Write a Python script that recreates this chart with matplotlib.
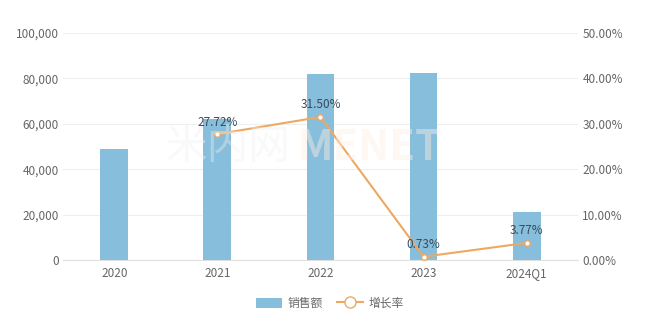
import matplotlib.pyplot as plt
from matplotlib.ticker import FuncFormatter
from matplotlib.lines import Line2D
from matplotlib.patches import Patch

plt.rcParams['font.family'] = ['Noto Sans CJK SC', 'DejaVu Sans']

years = ['2020', '2021', '2022', '2023', '2024Q1']
sales = [48700, 62300, 81900, 82500, 21100]
growth_years = ['2021', '2022', '2023', '2024Q1']
growth = [27.72, 31.50, 0.73, 3.77]

bar_color = '#86bedb'
line_color = '#eda862'
text_color = '#666666'

fig = plt.figure(figsize=(6.6, 3.36), dpi=100)
ax = fig.add_axes([0.095, 0.226, 0.781, 0.676])
ax2 = ax.twinx()

x = list(range(len(years)))
ax.bar(x, sales, width=0.27, color=bar_color, zorder=2)
ax.set_xlim(-0.5, len(years) - 0.5)
ax.set_ylim(0, 100000)
ax.set_yticks(range(0, 100001, 20000))
ax.yaxis.set_major_formatter(FuncFormatter(lambda v, p: f'{int(v):,}'))
ax.set_xticks(x)
ax.set_xticklabels(years)
ax.grid(axis='y', color='#efefef', linewidth=0.8, zorder=0)
ax.set_axisbelow(True)

gx = [years.index(y) for y in growth_years]
ax2.plot(gx, growth, color=line_color, linewidth=1.5, marker='o', markersize=4,
         markerfacecolor='white', markeredgecolor=line_color, zorder=3)
for xi, g in zip(gx, growth):
    ax2.annotate(f'{g:.2f}%', (xi, g), xytext=(0, 4), textcoords='offset points',
                 ha='center', va='bottom', fontsize=8.5, color='#3a4a5a')
ax2.set_ylim(0, 50)
ax2.set_yticks(range(0, 51, 10))
ax2.yaxis.set_major_formatter(FuncFormatter(lambda v, p: f'{v:.2f}%'))

for a in (ax, ax2):
    for s in a.spines.values():
        s.set_visible(False)
    a.tick_params(length=0, labelsize=8.5, labelcolor=text_color)
ax.spines['bottom'].set_visible(True)
ax.spines['bottom'].set_color('#e0e0e0')
ax.tick_params(axis='y', pad=3)
ax.tick_params(axis='x', pad=5)
ax2.tick_params(axis='y', pad=3)

# faint watermark
fig.text(0.44, 0.56, '米内网', fontsize=30, color='#f0f0f0', alpha=0.4, ha='right', va='center', zorder=0)
fig.text(0.45, 0.56, 'MENET', fontsize=30, color='#fdeee4', alpha=0.45, ha='left', va='center',
         fontweight='bold', zorder=0)

handles = [Patch(facecolor=bar_color, edgecolor='none'),
           Line2D([0], [0], color=line_color, marker='o', markersize=8,
                  markerfacecolor='white', markeredgecolor=line_color, linewidth=1.5)]
fig.legend(handles, ['销售额', '增长率'], loc='center', bbox_to_anchor=(0.5, 0.097),
           ncol=2, frameon=False, fontsize=8.5, labelcolor=text_color,
           handlelength=2.2, handleheight=1.0, columnspacing=1.2, handletextpad=0.5)

fig.savefig('out.png', dpi=100)
